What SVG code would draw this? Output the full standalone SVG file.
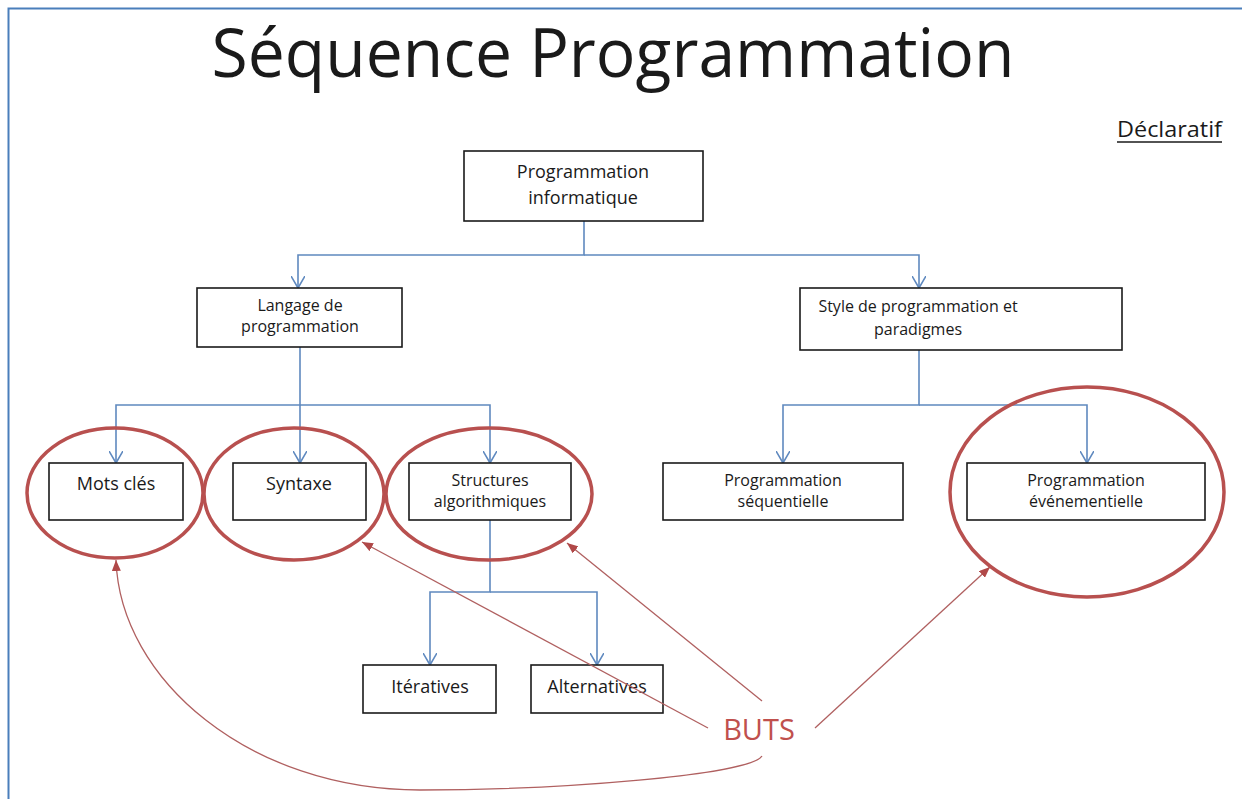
<svg xmlns="http://www.w3.org/2000/svg" width="1242" height="799" viewBox="0 0 1242 799">
<style>
  text { font-family: "Open Sans", "DejaVu Sans", sans-serif; fill: #1a1a1a; }
  .box { fill: #ffffff; stroke: #1a1a1a; stroke-width: 1.6; }
  .t16 { font-size: 16px; text-anchor: middle; }
  .t18 { font-size: 18px; text-anchor: middle; }
  .conn { fill: none; stroke: #5f89bf; stroke-width: 1.6; }
  .ring { fill: none; stroke: #b8504f; stroke-width: 3.5; }
  .red { fill: none; stroke: #b06060; stroke-width: 1.3; }
</style>
<defs>
  <marker id="vee" viewBox="0 0 12 14" refX="12" refY="7" markerWidth="12" markerHeight="14" markerUnits="userSpaceOnUse" orient="auto">
    <path d="M0,0 L12,7 L0,14" fill="none" stroke="#5f89bf" stroke-width="1.6"/>
  </marker>
  <marker id="tri" viewBox="0 0 11 9" refX="11" refY="4.5" markerWidth="11" markerHeight="9" markerUnits="userSpaceOnUse" orient="auto">
    <path d="M0,0 L11,4.5 L0,9 Z" fill="#b04848"/>
  </marker>
</defs>
<rect width="1242" height="799" fill="#ffffff"/>
<path d="M8.5,799 V8.5 H1242" fill="none" stroke="#4a7ebb" stroke-width="2"/>

<text id="title" x="613" y="77" font-size="68" text-anchor="middle" textLength="803" lengthAdjust="spacingAndGlyphs">Séquence Programmation</text>
<g id="declaratif">
  <text x="1117" y="137" font-size="21" textLength="105" lengthAdjust="spacingAndGlyphs">Déclaratif</text>
  <line x1="1117" y1="142" x2="1222" y2="142" stroke="#1a1a1a" stroke-width="1.3"/>
</g>

<g id="connectors">
  <path class="conn" d="M584,221 V255 H298 V288" marker-end="url(#vee)"/>
  <path class="conn" d="M584,255 H919 V288" marker-end="url(#vee)"/>
  <path class="conn" d="M300,347 V405 H116 V463" marker-end="url(#vee)"/>
  <path class="conn" d="M300,405 V463" marker-end="url(#vee)"/>
  <path class="conn" d="M300,405 H490 V463" marker-end="url(#vee)"/>
  <path class="conn" d="M919,350 V405 H783 V463" marker-end="url(#vee)"/>
  <path class="conn" d="M919,405 H1087 V463" marker-end="url(#vee)"/>
  <path class="conn" d="M490,520 V592 H430 V665" marker-end="url(#vee)"/>
  <path class="conn" d="M490,592 H597 V665" marker-end="url(#vee)"/>
</g>

<g id="n-prog-info">
  <rect class="box" x="464" y="151" width="239" height="70"/>
  <text class="t18" x="583" y="178">Programmation</text>
  <text class="t18" x="583" y="204">informatique</text>
</g>
<g id="n-langage">
  <rect class="box" x="197" y="288" width="205" height="59"/>
  <text class="t16" x="300" y="311">Langage de</text>
  <text class="t16" x="300" y="332">programmation</text>
</g>
<g id="n-style">
  <rect class="box" x="800" y="288" width="322" height="62"/>
  <text class="t16" x="918" y="312">Style de programmation et</text>
  <text class="t16" x="918" y="335">paradigmes</text>
</g>
<g id="n-mots">
  <rect class="box" x="49" y="463" width="134" height="57"/>
  <text class="t18" x="116" y="490">Mots clés</text>
</g>
<g id="n-syntaxe">
  <rect class="box" x="233" y="463" width="133" height="57"/>
  <text class="t18" x="299" y="490">Syntaxe</text>
</g>
<g id="n-structures">
  <rect class="box" x="409" y="463" width="162" height="57"/>
  <text class="t16" x="490" y="486">Structures</text>
  <text class="t16" x="490" y="507">algorithmiques</text>
</g>
<g id="n-sequentielle">
  <rect class="box" x="663" y="463" width="240" height="57"/>
  <text class="t16" x="783" y="486">Programmation</text>
  <text class="t16" x="783" y="507">séquentielle</text>
</g>
<g id="n-evenementielle">
  <rect class="box" x="967" y="463" width="238" height="57"/>
  <text class="t16" x="1086" y="486">Programmation</text>
  <text class="t16" x="1086" y="507">événementielle</text>
</g>
<g id="n-iteratives">
  <rect class="box" x="363" y="665" width="133" height="48"/>
  <text class="t18" x="430" y="693">Itératives</text>
</g>
<g id="n-alternatives">
  <rect class="box" x="531" y="665" width="132" height="48"/>
  <text class="t18" x="597" y="693">Alternatives</text>
</g>

<g id="highlights">
  <ellipse class="ring" cx="115" cy="493" rx="88" ry="65"/>
  <ellipse class="ring" cx="294" cy="494" rx="90" ry="66"/>
  <ellipse class="ring" cx="489" cy="494" rx="103" ry="66"/>
  <ellipse class="ring" cx="1087" cy="492" rx="137" ry="105"/>
</g>

<g id="buts">
  <text x="759" y="740" font-size="29" text-anchor="middle" style="fill:#c0504d">BUTS</text>
</g>
<g id="buts-connectors">
  <path class="red" d="M708,728 L362,542" marker-end="url(#tri)"/>
  <path class="red" d="M762,701 L567,543" marker-end="url(#tri)"/>
  <path class="red" d="M815,728 L990,567" marker-end="url(#tri)"/>
  <path class="red" d="M762,756 C750,775 560,790 420,790 C250,790 120,680 116,560" marker-end="url(#tri)"/>
</g>
</svg>
